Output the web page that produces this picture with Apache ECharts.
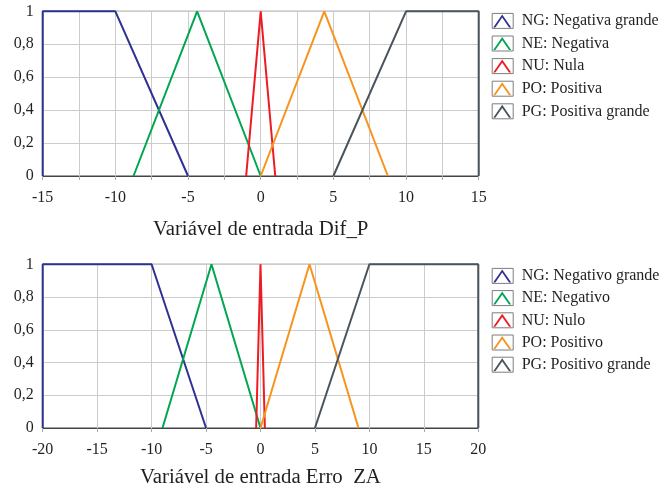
<!DOCTYPE html>
<html>
<head>
<meta charset="utf-8">
<script src="https://cdn.jsdelivr.net/npm/echarts@6/dist/echarts.min.js"></script>
<style>html,body{margin:0;padding:0;background:#fff}#c{width:661px;height:489px}</style>
</head>
<body>
<div id="c"></div>
<script>
// ---- data ----
const seriesNames = ['NG', 'NE', 'NU', 'PO', 'PG'];
const legendTop = ['NG: Negativa grande', 'NE: Negativa', 'NU: Nula', 'PO: Positiva', 'PG: Positiva grande'];
const legendBottom = ['NG: Negativo grande', 'NE: Negativo', 'NU: Nulo', 'PO: Positivo', 'PG: Positivo grande'];
const titleTop = 'Variável de entrada Dif_P';
const titleBottom = 'Variável de entrada Erro  ZA';

const difP_NG = [[-15, 0], [-15, 1], [-10, 1], [-5, 0]];
const difP_NE = [[-8.75, 0], [-4.375, 1], [0, 0]];
const difP_NU = [[-1, 0], [0, 1], [1, 0]];
const difP_PO = [[0, 0], [4.375, 1], [8.75, 0]];
const difP_PG = [[5, 0], [10, 1], [15, 1], [15, 0]];

const erroZA_NG = [[-20, 0], [-20, 1], [-10, 1], [-5, 0]];
const erroZA_NE = [[-9, 0], [-4.5, 1], [0, 0]];
const erroZA_NU = [[-0.4, 0], [0, 1], [0.4, 0]];
const erroZA_PO = [[0, 0], [4.5, 1], [9, 0]];
const erroZA_PG = [[5, 0], [10, 1], [20, 1], [20, 0]];

const xTickLabelsTop = ['-15', '-10', '-5', '0', '5', '10', '15'];
const xTickLabelsBottom = ['-20', '-15', '-10', '-5', '0', '5', '10', '15', '20'];
const yTickLabels = ['0', '0,2', '0,4', '0,6', '0,8', '1'];

// ---- styles ----
const colors = ['#2e3192', '#00a651', '#ed1c24', '#f7941d', '#4a545e'];
const FONT = '"Liberation Serif", "DejaVu Serif", serif';
const TXT = '#231f20';

const grids = [
  { left: 42.7, top: 11.3, width: 436, height: 164.7 },
  { left: 42.7, top: 264.3, width: 435.6, height: 165 }
];
const legendPos = [{ left: 491.7, top: 12.9, gap: 6.6 }, { left: 491.7, top: 267.9, gap: 6.2 }];
const vIcon = 'path://M0 13 L9 0 L18 13 L15.8 13 L9 3.2 L2.2 13 Z';

function xAxisCfg(gi, min, max, interval, labels, nameText, nameGap) {
  return {
    type: 'value', gridIndex: gi, min: min, max: max, interval: interval,
    name: nameText, nameLocation: 'middle', nameGap: nameGap,
    nameTextStyle: { fontFamily: FONT, fontSize: 20.8, color: TXT },
    axisLine: { show: true, lineStyle: { color: '#444', width: 1 } },
    axisTick: { show: true, inside: false, length: 4, lineStyle: { color: '#aaa' } },
    splitLine: { show: true, lineStyle: { color: '#cccccc', width: 1 } },
    axisLabel: {
      fontFamily: FONT, fontSize: 16, color: TXT, margin: 14,
      formatter: function (v) { const s = String(Math.round(v * 1000) / 1000); return labels.indexOf(s) >= 0 ? s : ''; }
    }
  };
}
function yAxisCfg(gi) {
  return {
    type: 'value', gridIndex: gi, min: 0, max: 1, interval: 0.2,
    axisLine: { show: false }, axisTick: { show: false },
    splitLine: { show: true, lineStyle: { color: '#cccccc', width: 1 } },
    axisLabel: {
      fontFamily: FONT, fontSize: 16, color: TXT, margin: 9,
      formatter: function (v) { return yTickLabels[Math.round(v / 0.2)]; }
    }
  };
}

const topData = [difP_NG, difP_NE, difP_NU, difP_PO, difP_PG];
const botData = [erroZA_NG, erroZA_NE, erroZA_NU, erroZA_PO, erroZA_PG];
const series = [];
topData.forEach(function (d, i) {
  series.push({ name: legendTop[i], type: 'line', xAxisIndex: 0, yAxisIndex: 0, data: d, symbol: 'none', clip: false,
    lineStyle: { color: colors[i], width: 2 }, itemStyle: { color: colors[i] } });
});
botData.forEach(function (d, i) {
  series.push({ name: legendBottom[i], type: 'line', xAxisIndex: 1, yAxisIndex: 1, data: d, symbol: 'none', clip: false,
    lineStyle: { color: colors[i], width: 2 }, itemStyle: { color: colors[i] } });
});

// text legend with the coloured "^" icon
function legendCfg(pos, names) {
  return {
    orient: 'vertical', left: pos.left + 1.5, top: pos.top, data: names, padding: 0,
    icon: vIcon, itemWidth: 18, itemHeight: 13, itemGap: pos.gap,
    selectedMode: false, itemStyle: { borderWidth: 0 },
    textStyle: { fontFamily: FONT, fontSize: 16, color: TXT, padding: [0, 0, 0, 5.5] }
  };
}
// frame boxes around the icons (same row layout, no text)
function boxLegendCfg(pos, names) {
  return {
    orient: 'vertical', left: pos.left, top: pos.top, data: names, padding: 0,
    icon: 'rect', itemWidth: 21, itemHeight: 15, itemGap: pos.gap,
    selectedMode: false, formatter: function () { return ' '; },
    itemStyle: { color: 'rgba(0,0,0,0)', borderColor: '#7d7d7d', borderWidth: 1 },
    textStyle: { fontFamily: FONT, fontSize: 16, color: TXT }
  };
}

const chart = echarts.init(document.getElementById('c'), null, { renderer: 'canvas' });
chart.setOption({
  animation: false,
  backgroundColor: '#fff',
  grid: grids.map(function (g) { return Object.assign({ show: true, borderColor: '#444', borderWidth: 1, backgroundColor: 'transparent' }, g); }),
  xAxis: [
    xAxisCfg(0, -15, 15, 2.5, xTickLabelsTop, titleTop, 43),
    xAxisCfg(1, -20, 20, 5, xTickLabelsBottom, titleBottom, 39)
  ],
  yAxis: [yAxisCfg(0), yAxisCfg(1)],
  legend: [
    legendCfg(legendPos[0], legendTop), legendCfg(legendPos[1], legendBottom),
    boxLegendCfg(legendPos[0], legendTop), boxLegendCfg(legendPos[1], legendBottom)
  ],
  series: series
});
</script>
</body>
</html>
